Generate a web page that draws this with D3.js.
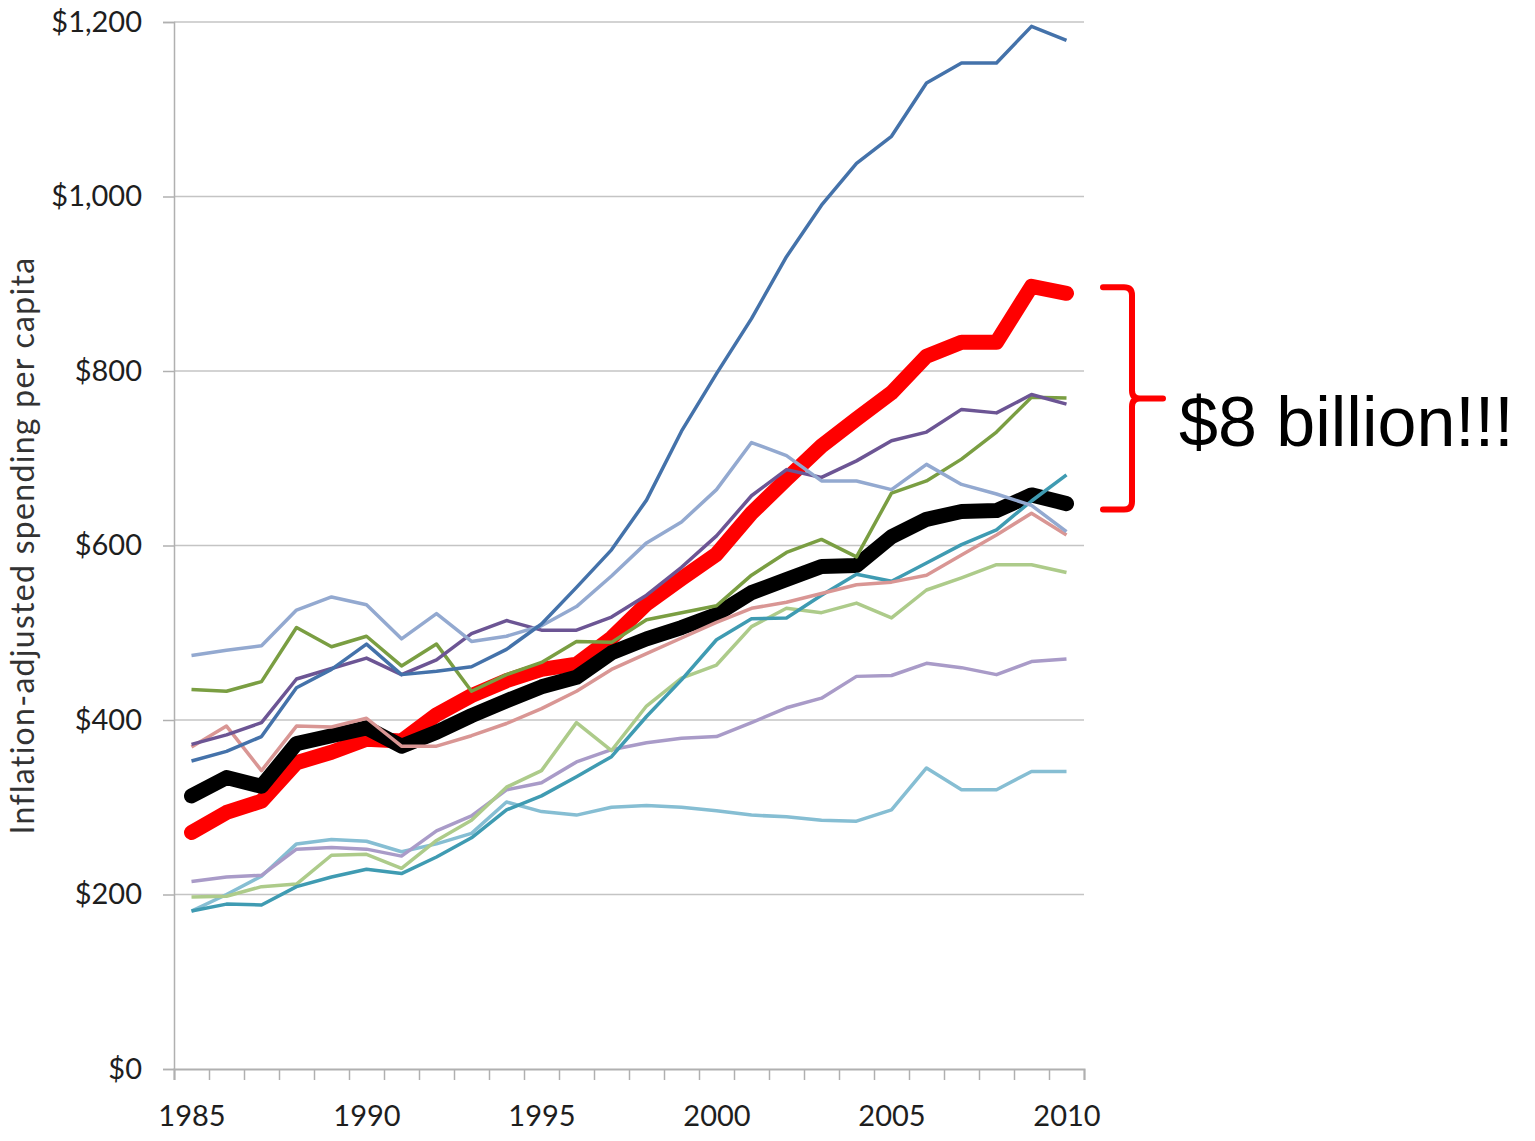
<!DOCTYPE html>
<html>
<head>
<meta charset="utf-8">
<script src="https://cdn.jsdelivr.net/npm/d3@7"></script>
<style>
  body { margin: 0; background: #fff; }
  text { font-family: Lato, "Open Sans", sans-serif; }
</style>
</head>
<body>
<div id="chart"></div>
<script>
// years + tick labels
const years = d3.range(1985, 2011);
const yTicks = [0, 200, 400, 600, 800, 1000, 1200];
const xLabels = [1985, 1990, 1995, 2000, 2005, 2010];

// thin lines (one per state)
const blue      = [353, 364, 381, 437, 458, 487, 452, 456, 461, 481, 510, 552, 595, 652, 731, 797, 860, 931, 990, 1038, 1069, 1130, 1153, 1153, 1195, 1179];
const steel     = [474, 480, 485, 526, 541, 532, 493, 522, 490, 496, 508, 530, 565, 603, 627, 664, 718, 703, 674, 674, 664, 693, 670, 659, 646, 616];
const olive     = [435, 433, 444, 506, 484, 496, 462, 487, 433, 452, 466, 490, 489, 515, 523, 531, 566, 592, 607, 587, 660, 674, 699, 730, 770, 769];
const purple    = [372, 383, 397, 447, 459, 471, 452, 469, 499, 514, 503, 503, 518, 543, 575, 611, 657, 687, 678, 697, 720, 730, 756, 752, 773, 762];
const salmon    = [369, 393, 342, 393, 392, 402, 370, 370, 382, 396, 413, 433, 458, 476, 494, 512, 528, 535, 545, 555, 558, 566, 589, 612, 637, 612];
const teal      = [181, 189, 188, 209, 220, 229, 224, 243, 265, 297, 313, 335, 358, 404, 446, 492, 516, 517, 543, 567, 559, 580, 601, 618, 651, 681];
const sky       = [181, 200, 221, 258, 263, 261, 249, 258, 270, 306, 295, 291, 300, 302, 300, 296, 291, 289, 285, 284, 297, 345, 320, 320, 341, 341];
const lavender  = [215, 220, 222, 252, 254, 252, 244, 273, 290, 320, 328, 352, 366, 374, 379, 381, 397, 414, 425, 450, 451, 465, 460, 452, 467, 470];
const lightGreen = [197, 198, 209, 212, 245, 246, 230, 262, 285, 323, 342, 397, 365, 416, 448, 463, 507, 528, 523, 534, 517, 549, 563, 578, 578, 569];

// thick lines
const highlight = [271, 294, 307, 351, 363, 378, 376, 406, 428, 445, 458, 464, 494, 533, 562, 590, 637, 676, 714, 745, 775, 817, 833, 833, 897, 889];
const average   = [313, 334, 324, 373, 382, 391, 370, 386, 405, 422, 438, 449, 477, 493, 506, 521, 546, 561, 576, 577, 610, 630, 639, 640, 658, 648];

const cfg = {
  w: 1535,
  h: 1141,
  left: 174,
  right: 1084,
  top: 22,
  bottom: 1069
};

const svg = d3.select('#chart').append('svg')
  .attr('width', cfg.w)
  .attr('height', cfg.h);

const x = d3.scaleLinear().domain([1984.5, 2010.5]).range([cfg.left, cfg.right]);
const y = d3.scaleLinear().domain([0, 1200]).range([cfg.bottom, cfg.top]);

// grid
svg.append('g')
  .selectAll('line')
  .data(yTicks.filter(v => v > 0))
  .enter()
  .append('line')
  .attr('x1', cfg.left)
  .attr('x2', cfg.right)
  .attr('y1', d => y(d))
  .attr('y2', d => y(d))
  .style('stroke', '#c4c4c4')
  .style('stroke-width', '1.5px');

// y axis
const yAxis = svg.append('g')
  .attr('transform', `translate(${cfg.left},0)`)
  .call(d3.axisLeft(y).tickValues(yTicks).tickSize(11).tickPadding(21)
    .tickFormat(d => '$' + d3.format(',')(d)));
yAxis.select('.domain').style('stroke', '#b0b0b0').style('stroke-width', '1.5px');
yAxis.selectAll('.tick line').style('stroke', '#b0b0b0').style('stroke-width', '1.5px');
yAxis.selectAll('text')
  .style('font-size', '29px')
  .style('fill', '#1e1e1e');

// x axis: marks between years, labels every 5 years
const xMarks = svg.append('g')
  .attr('transform', `translate(0,${cfg.bottom})`)
  .call(d3.axisBottom(x).tickValues(d3.range(1984.5, 2011, 1)).tickSize(11).tickFormat(''));
xMarks.select('.domain').style('stroke', '#b0b0b0').style('stroke-width', '2px');
xMarks.selectAll('.tick line').style('stroke', '#b0b0b0').style('stroke-width', '1.5px');

const xAxis = svg.append('g')
  .attr('transform', `translate(0,${cfg.bottom})`)
  .call(d3.axisBottom(x).tickValues(xLabels).tickSize(0).tickPadding(36).tickFormat(d3.format('d')));
xAxis.select('.domain').remove();
xAxis.selectAll('text')
  .style('font-size', '29px')
  .style('fill', '#1e1e1e');

// y label
svg.append('text')
  .attr('transform', `translate(34,${(cfg.top + cfg.bottom) / 2}) rotate(-90)`)
  .attr('text-anchor', 'middle')
  .style('font-size', '32px')
  .style('letter-spacing', '1.3px')
  .style('fill', '#333')
  .text('Inflation-adjusted spending per capita');

const line = d3.line()
  .x((d, i) => x(years[i]))
  .y(d => y(d));

// thick lines first, thin ones on top
const thick = [
  {values: highlight, color: '#ff0000'},
  {values: average, color: '#000000'}
];
thick.forEach(s => {
  svg.append('path')
    .datum(s.values)
    .attr('d', line)
    .style('fill', 'none')
    .style('stroke', s.color)
    .style('stroke-width', '15px')
    .style('stroke-linejoin', 'round')
    .style('stroke-linecap', 'round');
});

const thin = [
  {values: sky, color: '#86bed3'},
  {values: lavender, color: '#a99bc8'},
  {values: lightGreen, color: '#adcb8a'},
  {values: teal, color: '#3f9bb2'},
  {values: salmon, color: '#d99694'},
  {values: olive, color: '#7a9e42'},
  {values: purple, color: '#6c5594'},
  {values: steel, color: '#93a9d0'},
  {values: blue, color: '#4472aa'}
];
thin.forEach(s => {
  svg.append('path')
    .datum(s.values)
    .attr('d', line)
    .style('fill', 'none')
    .style('stroke', s.color)
    .style('stroke-width', '3.5px')
    .style('stroke-linejoin', 'round');
});

// red brace from the red line end down to the black line end
const braceTop = y(highlight[highlight.length - 1]) - 6;
const braceBot = y(average[average.length - 1]) + 6;
const braceMid = (braceTop + braceBot) / 2;
const bx = 1132, r = 8;
svg.append('path')
  .attr('d', `M1103,${braceTop} L${bx - r},${braceTop} Q${bx},${braceTop} ${bx},${braceTop + r} L${bx},${braceMid - 8} Q${bx},${braceMid} ${bx + 8},${braceMid} L1163,${braceMid}` +
             ` M${bx + 8},${braceMid} Q${bx},${braceMid} ${bx},${braceMid + 8} L${bx},${braceBot - r} Q${bx},${braceBot} ${bx - r},${braceBot} L1103,${braceBot}`)
  .style('fill', 'none')
  .style('stroke', '#ff0000')
  .style('stroke-width', '6px')
  .style('stroke-linecap', 'round')
  .style('stroke-linejoin', 'round');

svg.append('text')
  .attr('x', 1179)
  .attr('y', 446)
  .style('font-family', '"Liberation Sans", Arial, sans-serif')
  .style('font-size', '70px')
  .style('fill', '#000')
  .text('$8 billion!!!');
</script>
</body>
</html>
